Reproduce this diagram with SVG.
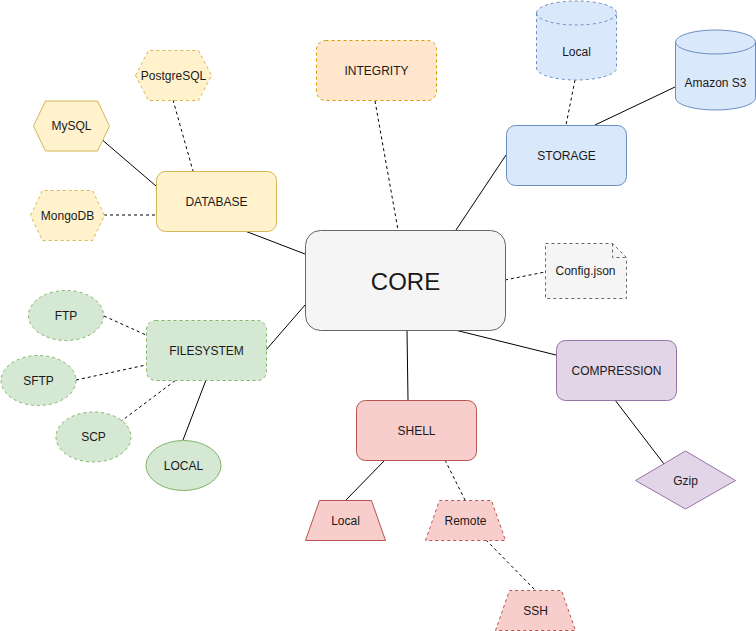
<svg xmlns="http://www.w3.org/2000/svg" width="756" height="631" viewBox="0 0 756 631">
<style>
text{font-family:"Liberation Sans",Arial,Helvetica,sans-serif;font-size:12px;fill:#1a1a1a;text-anchor:middle;dominant-baseline:central}
.e{fill:none;stroke:#000;stroke-width:1}
.d{stroke-dasharray:3 3}
.y{fill:#fff2cc;stroke:#d6b656}
.o{fill:#ffe6cc;stroke:#d79b00}
.b{fill:#dae8fc;stroke:#6c8ebf}
.g{fill:#d5e8d4;stroke:#82b366}
.r{fill:#f8cecc;stroke:#b85450}
.p{fill:#e1d5e7;stroke:#9673a6}
.k{fill:#f5f5f5;stroke:#666666}
</style>
<rect width="756" height="631" fill="#ffffff"/>
<g id="connectors">
<line class="e" x1="100" y1="138" x2="156" y2="186"/>
<line class="e d" x1="173" y1="100" x2="193" y2="171"/>
<line class="e d" x1="104" y1="215" x2="156" y2="215"/>
<line class="e" x1="245" y1="231" x2="305" y2="254"/>
<line class="e d" x1="375" y1="101" x2="398" y2="230"/>
<line class="e" x1="456" y1="230" x2="506" y2="155"/>
<line class="e d" x1="575" y1="80" x2="566" y2="125"/>
<line class="e" x1="675" y1="87" x2="595" y2="125"/>
<line class="e d" x1="104" y1="316" x2="146" y2="335"/>
<line class="e d" x1="76" y1="380" x2="146" y2="365"/>
<line class="e d" x1="120" y1="422" x2="176" y2="380"/>
<line class="e" x1="183" y1="440" x2="206" y2="380"/>
<line class="e" x1="266" y1="350" x2="305" y2="305"/>
<line class="e" x1="407" y1="330" x2="408" y2="400"/>
<line class="e" x1="385" y1="460" x2="346" y2="500"/>
<line class="e d" x1="445" y1="460" x2="465" y2="500"/>
<line class="e d" x1="486" y1="540" x2="535" y2="590"/>
<line class="e d" x1="505" y1="280" x2="545" y2="272"/>
<line class="e" x1="455" y1="330" x2="556" y2="355"/>
<line class="e" x1="615" y1="400" x2="664" y2="464"/>
</g>
<g id="core"><rect class="k" x="305.5" y="230.5" width="200" height="100" rx="15"/><text x="405.5" y="281" style="font-size:24px">CORE</text></g>
<g id="database"><rect class="y" x="156.5" y="171.5" width="120" height="60" rx="9"/><text x="216.5" y="201.5">DATABASE</text></g>
<g id="postgresql"><polygon class="y d" points="135.5,75.5 148.5,50.5 198.5,50.5 211.5,75.5 198.5,100.5 148.5,100.5"/><text x="173.5" y="75.5">PostgreSQL</text></g>
<g id="mysql"><polygon class="y" points="33.5,126 45.5,101 97.5,101 109.5,126 97.5,151 45.5,151"/><text x="71.5" y="126">MySQL</text></g>
<g id="mongodb"><polygon class="y d" points="30.5,215.5 42.5,190.5 92.5,190.5 104.5,215.5 92.5,240.5 42.5,240.5"/><text x="67.5" y="215.5">MongoDB</text></g>
<g id="integrity"><rect class="o d" x="316.5" y="40.5" width="120" height="60" rx="9"/><text x="376.5" y="70.5">INTEGRITY</text></g>
<g id="storage"><rect class="b" x="506.5" y="125.5" width="120" height="60" rx="9"/><text x="566.5" y="155.5">STORAGE</text></g>
<g id="local-storage"><path class="b d" d="M536.5,13 A40,12 0 0 1 616.5,13 V68 A40,12 0 0 1 536.5,68 Z"/><path class="e d" style="stroke:#6c8ebf" d="M536.5,13 A40,12 0 0 0 616.5,13"/><text x="576.5" y="52">Local</text></g>
<g id="amazon-s3"><path class="b" d="M675.5,42 A40,12 0 0 1 755.5,42 V98 A40,12 0 0 1 675.5,98 Z"/><path class="e" style="stroke:#6c8ebf" d="M675.5,42 A40,12 0 0 0 755.5,42"/><text x="715.5" y="83">Amazon S3</text></g>
<g id="filesystem"><rect class="g d" x="146.5" y="320.5" width="120" height="60" rx="9"/><text x="206.5" y="350.5">FILESYSTEM</text></g>
<g id="ftp"><ellipse class="g d" cx="66" cy="315.5" rx="37.5" ry="25"/><text x="66" y="315.5">FTP</text></g>
<g id="sftp"><ellipse class="g d" cx="38.5" cy="380.5" rx="37.5" ry="25"/><text x="38.5" y="380.5">SFTP</text></g>
<g id="scp"><ellipse class="g d" cx="93.5" cy="437" rx="37.5" ry="25"/><text x="93.5" y="437">SCP</text></g>
<g id="local-fs"><ellipse class="g" cx="183.5" cy="465.5" rx="37.5" ry="25"/><text x="183.5" y="465.5">LOCAL</text></g>
<g id="shell"><rect class="r" x="356.5" y="400.5" width="120" height="60" rx="9"/><text x="416.5" y="430.5">SHELL</text></g>
<g id="local-shell"><polygon class="r" points="305.5,540.5 319.5,500.5 371.5,500.5 385.5,540.5"/><text x="345.5" y="520.5">Local</text></g>
<g id="remote"><polygon class="r d" points="425.5,540.5 439.5,500.5 491.5,500.5 505.5,540.5"/><text x="465.5" y="520.5">Remote</text></g>
<g id="ssh"><polygon class="r d" points="495.5,630.5 509.5,590.5 561.5,590.5 575.5,630.5"/><text x="535.5" y="610.5">SSH</text></g>
<g id="config"><path class="k d" d="M545.5,243.5 H612.5 L626.5,257.5 V298.5 H545.5 Z"/><path class="e d" style="stroke:#666666" d="M612.5,243.5 V257.5 H626.5"/><text x="585.5" y="271">Config.json</text></g>
<g id="compression"><rect class="p" x="556.5" y="340.5" width="120" height="60" rx="9"/><text x="616.5" y="370.5">COMPRESSION</text></g>
<g id="gzip"><polygon class="p" points="635.5,480.5 685.5,451 735.5,480.5 685.5,509"/><text x="685.5" y="480.5">Gzip</text></g>
</svg>
